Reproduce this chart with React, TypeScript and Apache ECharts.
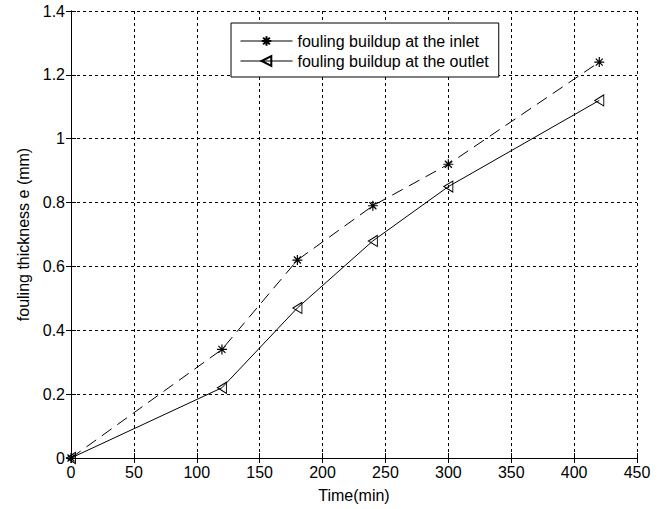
import React, { useEffect, useRef } from "react";
import * as echarts from "echarts";

const timeMin = [0, 120, 180, 240, 300, 420];
const inletThickness = [0, 0.34, 0.62, 0.79, 0.92, 1.24];
const outletThickness = [0, 0.22, 0.47, 0.68, 0.85, 1.12];
const seriesNames = ["fouling buildup at the inlet", "fouling buildup at the outlet"];
const xTitle = "Time(min)";
const yTitle = "fouling thickness e (mm)";

const FONT = "'Liberation Sans', Arial, sans-serif";

export default function App() {
  const ref = useRef<HTMLDivElement>(null);
  useEffect(() => {
    if (!ref.current) return;
    const chart = echarts.init(ref.current, undefined, { renderer: "svg" });
    const inletData = timeMin.map((t, i) => [t, inletThickness[i]]);
    const outletData = timeMin.map((t, i) => [t, outletThickness[i]]);
    const axisCommon = {
      axisLine: { show: true, lineStyle: { color: "#000", width: 1 } },
      axisTick: { show: true, inside: true, length: 5, lineStyle: { color: "#000" } },
    };
    chart.setOption({
      animation: false,
      backgroundColor: "#fff",
      textStyle: { fontFamily: FONT },
      grid: { left: 71, right: 33, top: 11, bottom: 51, containLabel: false },
      legend: {
        orient: "vertical",
        left: 231,
        top: 23,
        itemWidth: 52,
        itemHeight: 12,
        itemGap: 0,
        padding: [8, 10, 6, 9],
        borderColor: "#000",
        borderWidth: 1,
        backgroundColor: "#fff",
        lineStyle: { type: "solid", width: 1 },
        textStyle: { fontFamily: FONT, fontSize: 16, color: "#000", lineHeight: 20 },
        data: seriesNames,
      },
      xAxis: [
        {
          type: "value",
          min: 0,
          max: 450,
          interval: 50,
          ...axisCommon,
          axisLabel: { color: "#000", fontSize: 16, fontFamily: FONT, margin: 6 },
          splitLine: { show: true, lineStyle: { color: "#000", type: [3, 3], width: 1 } },
          name: xTitle,
          nameLocation: "middle",
          nameGap: 29,
          nameTextStyle: { color: "#000", fontSize: 16, fontFamily: FONT },
        },
        {
          type: "value",
          position: "top",
          min: 0,
          max: 450,
          interval: 50,
          ...axisCommon,
          axisLabel: { show: false },
          splitLine: { show: false },
        },
      ],
      yAxis: [
        {
          type: "value",
          min: 0,
          max: 1.4,
          interval: 0.2,
          ...axisCommon,
          axisLabel: { color: "#000", fontSize: 16, fontFamily: FONT, margin: 6 },
          splitLine: { show: true, lineStyle: { color: "#000", type: [3, 3], width: 1 } },
          name: yTitle,
          nameLocation: "middle",
          nameGap: 38,
          nameTextStyle: { color: "#000", fontSize: 16, fontFamily: FONT },
        },
        {
          type: "value",
          position: "right",
          min: 0,
          max: 1.4,
          interval: 0.2,
          ...axisCommon,
          axisLabel: { show: false },
          splitLine: { show: false },
        },
      ],
      series: [
        {
          name: seriesNames[0],
          type: "line",
          xAxisIndex: 0,
          yAxisIndex: 0,
          data: inletData,
          symbol: "path://M5,0L5,10M0,5L10,5M1.5,1.5L8.5,8.5M1.5,8.5L8.5,1.5",
          symbolSize: 10,
          showAllSymbol: true,
          lineStyle: { color: "#000", width: 1, type: [12, 7] },
          itemStyle: { color: "transparent", borderColor: "#000", borderWidth: 1.2 },
          emphasis: { disabled: true },
        },
        {
          name: seriesNames[1],
          type: "line",
          xAxisIndex: 0,
          yAxisIndex: 0,
          data: outletData,
          symbol: "path://M0,5.5L9,0L9,11Z",
          symbolSize: [9, 11],
          symbolKeepAspect: false,
          showAllSymbol: true,
          lineStyle: { color: "#000", width: 1, type: "solid" },
          itemStyle: { color: "transparent", borderColor: "#000", borderWidth: 1 },
          emphasis: { disabled: true },
        },
      ],
    });
    return () => chart.dispose();
  }, []);
  return (
    <div
      ref={ref}
      style={{ position: "fixed", left: 0, top: 0, width: 670, height: 509 }}
    />
  );
}
